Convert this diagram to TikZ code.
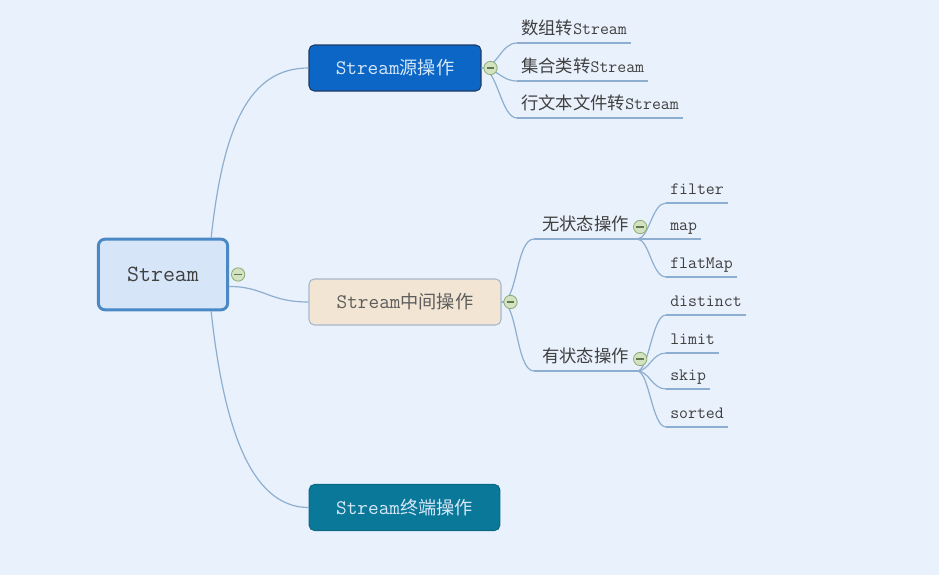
\documentclass[tikz,border=0pt]{standalone}
\usepackage{fontspec}
\newfontfamily\cjk{Noto Sans CJK SC}
\newfontfamily\cjkS[Scale=0.88]{Noto Sans CJK SC}
\usetikzlibrary{calc}
\definecolor{bgA}{HTML}{E9F1FC}
\definecolor{lineA}{HTML}{8DAECE}
\definecolor{rootF}{HTML}{D6E6F8}
\definecolor{rootD}{HTML}{4A89C6}
\definecolor{srcF}{HTML}{0B66C6}
\definecolor{srcD}{HTML}{1E3C66}
\definecolor{midF}{HTML}{F2E5D3}
\definecolor{midD}{HTML}{A8B9CA}
\definecolor{endF}{HTML}{0A7899}
\definecolor{endD}{HTML}{0B6A86}
\definecolor{textA}{HTML}{404040}
\definecolor{textL}{HTML}{D6E8F8}
\definecolor{foldF}{HTML}{D3E3C2}
\definecolor{foldD}{HTML}{8CAB74}

\begin{document}
\begin{tikzpicture}[
  x=0.75pt, y=-0.75pt,
  rootbox/.style={
    draw=rootD, fill=rootF, line width=2.2pt,
    rounded corners=5pt,
    minimum width=97pt, minimum height=53pt,
    font=\ttfamily\fontsize{17.4}{20}\selectfont, text=textA
  },
  topic/.style={
    rounded corners=4pt, line width=0.8pt,
    minimum height=34.5pt, inner xsep=0pt,
    font=\ttfamily\fontsize{15.5}{18}\selectfont
  },
  srcbox/.style={topic, draw=srcD, fill=srcF, text=textL, minimum width=129pt},
  midbox/.style={topic, draw=midD, fill=midF, text=textA!85, minimum width=144pt},
  endbox/.style={topic, draw=endD, fill=endF, text=textL, minimum width=143pt},
  leaf/.style={
    anchor=south west, text=textA,
    font=\ttfamily\fontsize{13}{16}\selectfont,
    inner xsep=3pt, inner ysep=3pt,
    text height=10pt, text depth=3pt
  },
  sub/.style={leaf, inner xsep=6pt},
  branch/.style={draw=lineA, line width=0.9pt},
  fold/.style={
    circle, draw=foldD, fill=foldF, line width=0.6pt,
    minimum size=10pt, inner sep=0pt,
    path picture={\draw[foldD!70!black, line width=0.8pt]
      ([xshift=2.2pt]path picture bounding box.west) --
      ([xshift=-2.2pt]path picture bounding box.east);}
  },
]

%% ═══ FUNDO ═══
\fill[bgA] (0,0) rectangle (939,575);
\useasboundingbox (0,0) rectangle (939,575);

%% ═══ RAIZ + TÓPICOS ═══
\node[rootbox] (root) at (163,274.5) {Stream};

\node[srcbox] (src) at (395,68) {Stream{\cjkS 源操作}};
\node[midbox] (mid) at (405,302) {Stream{\cjkS 中间操作}};
\node[endbox] (term) at (404.5,507.5) {Stream{\cjkS 终端操作}};

\draw[branch] ($(root.north east)+(-18,0)$) .. controls +(12,-110) and +(-60,0) .. (src.west);
\draw[branch] ($(root.east)+(0,12)$) .. controls +(35,0) and +(-40,0) .. (mid.west);
\draw[branch] ($(root.south east)+(-18,0)$) .. controls +(12,110) and +(-60,0) .. (term.west);

%% ═══ FONTES ═══
\node[leaf] (s1) at (517,43) {{\cjk 数组转}Stream};
\node[leaf] (s2) at (517,81) {{\cjk 集合类转}Stream};
\node[leaf] (s3) at (517,118) {{\cjk 行文本文件转}Stream};

\foreach \n in {s1,s2,s3}
  \draw[branch] (src.east) .. controls +(16,0) and +(-16,0) .. (\n.south west);

%% ═══ INTERMEDIÁRIAS ═══
\node[sub] (nostate) at (534,239) {\cjk 无状态操作};
\node[sub] (state) at (534,371) {\cjk 有状态操作};

\foreach \n in {nostate,state}
  \draw[branch] (mid.east) .. controls +(16,0) and +(-18,0) .. (\n.south west);

\node[leaf] (f1) at (666,203) {filter};
\node[leaf] (f2) at (666,239) {map};
\node[leaf] (f3) at (666,277) {flatMap};

\foreach \n in {f1,f2,f3}
  \draw[branch] (nostate.south east) .. controls +(12,0) and +(-14,0) .. (\n.south west);

\node[leaf] (t1) at (666,315) {distinct};
\node[leaf] (t2) at (666,353) {limit};
\node[leaf] (t3) at (666,389) {skip};
\node[leaf] (t4) at (666,427) {sorted};

\foreach \n in {t1,t2,t3,t4}
  \draw[branch] (state.south east) .. controls +(12,0) and +(-14,0) .. (\n.south west);

%% sublinhados
\foreach \n in {s1,s2,s3,nostate,state,f1,f2,f3,t1,t2,t3,t4}
  \draw[branch] (\n.south west) -- (\n.south east);

%% ═══ BOTÕES ═══
\node[fold] (k0) at ($(root.east)+(9,0)$) {};
\node[fold] (k1) at ($(src.east)+(9,0)$) {};
\node[fold] (k2) at ($(mid.east)+(9,0)$) {};
\node[fold] (k3) at ($(nostate.south east)+(3,-12)$) {};
\node[fold] (k4) at ($(state.south east)+(3,-12)$) {};

\end{tikzpicture}
\end{document}
